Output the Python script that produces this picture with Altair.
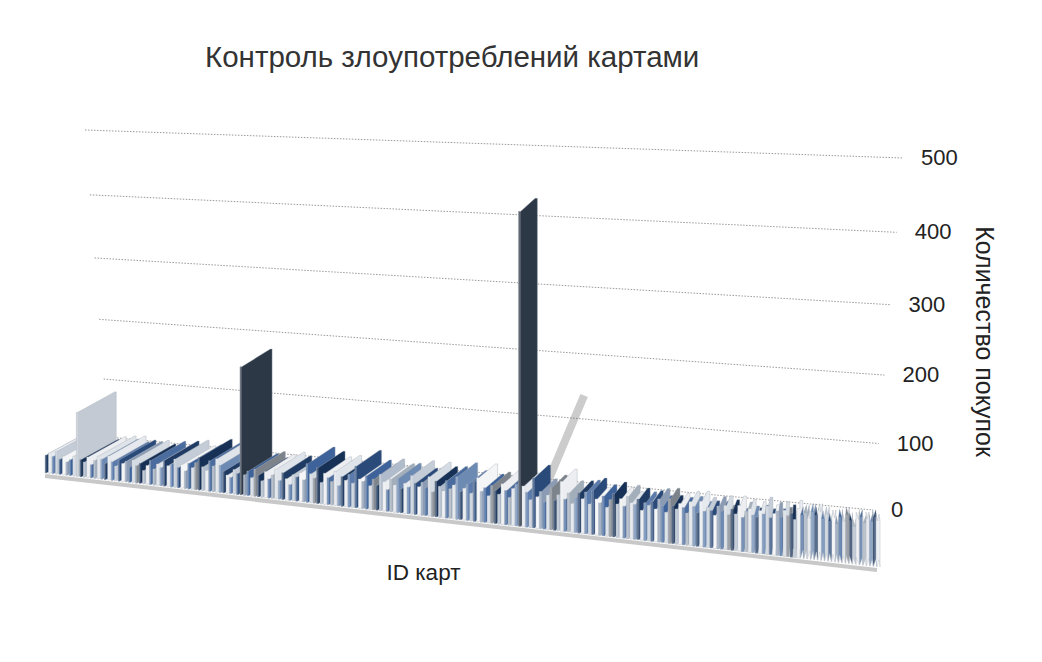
import altair as alt
import pandas as pd

title_text = "Контроль злоупотреблений картами"
x_title = "ID карт"
y_title = "Количество покупок"

# purchases per card, left to right
purchases = [
    27, 31, 26, 34, 23, 28, 20, 24, 30,
    96,
    26, 23, 31, 20, 27, 34, 30, 24, 36, 28, 22, 32, 27, 31, 23, 34, 26,
    30, 20, 28, 36, 24, 32, 27, 39, 31, 34, 42, 30, 35, 26, 38, 32, 40,
    48,
    35, 30, 45, 38, 49, 40, 32, 27, 24, 36, 31,
    187,
    30, 36, 27, 40, 32, 24, 38, 28, 34, 43, 27, 39, 31, 23, 38, 35, 42, 32,
    56,
    42, 36, 52, 31, 45, 39, 34, 49, 29, 43, 38, 47, 35, 60, 42, 39, 48, 34, 44, 36,
    52, 42, 31, 47, 39, 49, 35, 43, 38, 55, 45, 40, 47, 40, 56, 35, 51, 44, 38, 53,
    42, 48, 60, 40, 45, 51, 39, 56, 62, 43, 49, 38, 53, 47, 42, 57, 48, 39, 52, 58,
    440,
    57, 49, 39,
    70,
    44, 52, 38, 48, 59, 42, 50, 69, 45, 54, 40, 49, 56, 48, 58, 42, 62, 50, 45, 55,
    40, 51, 60, 46, 54, 44, 58, 50, 48, 56, 41, 52, 49, 55, 45, 59, 50, 42, 61, 52,
    48, 56, 51, 44, 60, 54, 46, 62, 49, 55, 51, 45, 58, 52, 60, 48, 56, 50, 62, 46,
    55, 59, 51, 49, 58, 54, 65, 50, 56, 60, 52, 62, 55, 59, 51, 66, 58, 61, 54, 64,
    60, 65, 56, 62, 54, 59, 51, 61, 55, 65, 58, 50, 60, 64, 56, 62, 59, 66, 61,
]
tick_values = [0, 100, 200, 300, 400, 500]

n = len(purchases)
cards = [f"{i + 1:03d}" for i in range(n)]

# four corners per card slab: front-left, front-right, back-left, back-right
bars_df = pd.DataFrame([
    {"card": c, "idx": i, "corner": k, "value": v}
    for i, (c, v) in enumerate(zip(cards, purchases))
    for k in range(4)
])
grid_df = pd.DataFrame({"tick": tick_values})
floor_df = pd.DataFrame({"u": [0, 1]})

palette = [
    "#1f3b63", "#e6eaef", "#5a7bab", "#c3ccd7", "#2a4a7a", "#f4f5f7",
    "#8a9bb3", "#3d639a", "#d5dbe2", "#7d838b", "#163056", "#b0bccb",
    "#eceef1", "#4a6c9e", "#a3aebb", "#dfe4ea", "#6d8ab3",
]

FONT = "Liberation Sans"

# screen-space scales for the hand-made perspective projection
X_SCALE = alt.Scale(domain=[8, 1034], nice=False, zero=False)
Y_SCALE = alt.Scale(domain=[88, 654], reverse=True, nice=False, zero=False)
X_AXIS = alt.Axis(title=x_title, labels=False, ticks=False, domain=False, grid=False,
                  titleX=415, titleY=-82, titleFontSize=22.5, titleFontWeight="normal",
                  titleColor="#222", titleFont=FONT, titleBaseline="middle", titleAlign="center")
Y_AXIS = alt.Axis(title=y_title, orient="right", labels=False, ticks=False, domain=False,
                  grid=False, titleX=-51, titleY=253, titleAngle=90, titleFontSize=25,
                  titleFontWeight="normal", titleColor="#222", titleFont=FONT,
                  titleBaseline="middle", titleAlign="center")


def xy(xf, yf):
    return {
        "x": alt.X(xf, scale=X_SCALE, axis=X_AXIS),
        "y": alt.Y(yf, scale=Y_SCALE, axis=Y_AXIS),
    }


# back wall gridlines (perspective: wall is taller on the right)
grid_base = alt.Chart(grid_df).transform_calculate(
    t="datum.tick * (1 + 0.00015 * datum.tick) / 1.075 / 500"
).transform_calculate(
    lx="108 - 23 * datum.t", ly="437 - 307 * datum.t",
    rx="873 + 30 * datum.t", ry="510 - 352 * datum.t",
)

grid = grid_base.mark_rule(color="#9a9a9a", strokeWidth=1, strokeDash=[1.5, 1.5]).encode(
    **xy("lx:Q", "ly:Q"), x2="rx:Q", y2="ry:Q",
)

labels = grid_base.mark_text(align="left", baseline="middle", dx=18, fontSize=22,
                             font=FONT, color="#222").encode(
    **xy("rx:Q", "ry:Q"), text=alt.Text("tick:Q", format="d"),
)

# slab geometry: front edge along the floor, depth vector shrinking to the right
slabs = alt.Chart(bars_df).transform_calculate(
    u=f"datum.idx / {n - 1}",
    side="datum.corner >= 2 ? 1 : 0",
    right="datum.corner % 2",
).transform_calculate(
    w="1.4 + 1.6 * datum.u",
    bx0="45 + 832 * datum.u + datum.side * (40 - 41 * datum.u)",
    by="473 + 94 * datum.u + datum.side * (-21 + 14 * datum.u)",
).transform_calculate(
    bx="datum.bx0 + datum.right * datum.w",
    ty="datum.by - (0.665 + 0.09 * datum.u) * datum.value",
)

# soft shadow of the tallest bar
shadow = slabs.transform_filter("datum.value > 300 && datum.corner == 2").transform_calculate(
    sx1="datum.bx + 12", sy1="datum.by - 30", sx2="datum.bx + 49", sy2="datum.by - 118"
).mark_rule(color="#555", strokeWidth=8, opacity=0.3).encode(
    **xy("sx1:Q", "sy1:Q"), x2="sx2:Q", y2="sy2:Q",
)

floor = alt.Chart(floor_df).transform_calculate(
    fx="45 + 832 * datum.u", fy="476 + 94 * datum.u"
).mark_line(color="#9b9b9b", strokeWidth=4, opacity=0.55).encode(
    **xy("fx:Q", "fy:Q"),
)

bars = slabs.mark_area(interpolate="linear", stroke="#a3abb5", strokeWidth=0.4).encode(
    **xy("bx:Q", "ty:Q"),
    y2="by:Q",
    detail="card:N",
    color=alt.Color(
        "card:N",
        scale=alt.Scale(range=palette),
        legend=None,
        condition=[
            {"test": "datum.value >= 150", "value": "#2d3846"},
            {"test": "datum.value >= 80", "value": "#c3cad3"},
        ],
    ),
    tooltip=[alt.Tooltip("card:N", title="ID"), alt.Tooltip("value:Q", title="Покупки")],
)

# lighter front faces of the slabs
fronts = slabs.transform_filter("datum.corner == 0").transform_calculate(
    bx2="datum.bx + datum.w"
).mark_rect(color="white", opacity=0.25).encode(
    **xy("bx:Q", "ty:Q"), x2="bx2:Q", y2="by:Q",
)

chart = alt.layer(grid, shadow, floor, bars, fronts, labels).properties(
    width=1026,
    height=566,
    padding={"left": 0, "top": 80, "right": 0, "bottom": 0},
    autosize=alt.AutoSizeParams(type="none"),
    title=alt.Title(title_text, anchor="start", dx=197, dy=28, fontSize=29.5, fontWeight="normal",
                    color="#333", font=FONT, baseline="alphabetic", offset=20),
).configure_view(stroke=None)

chart.save("out.html", embed_options={"renderer": "svg", "actions": False})
